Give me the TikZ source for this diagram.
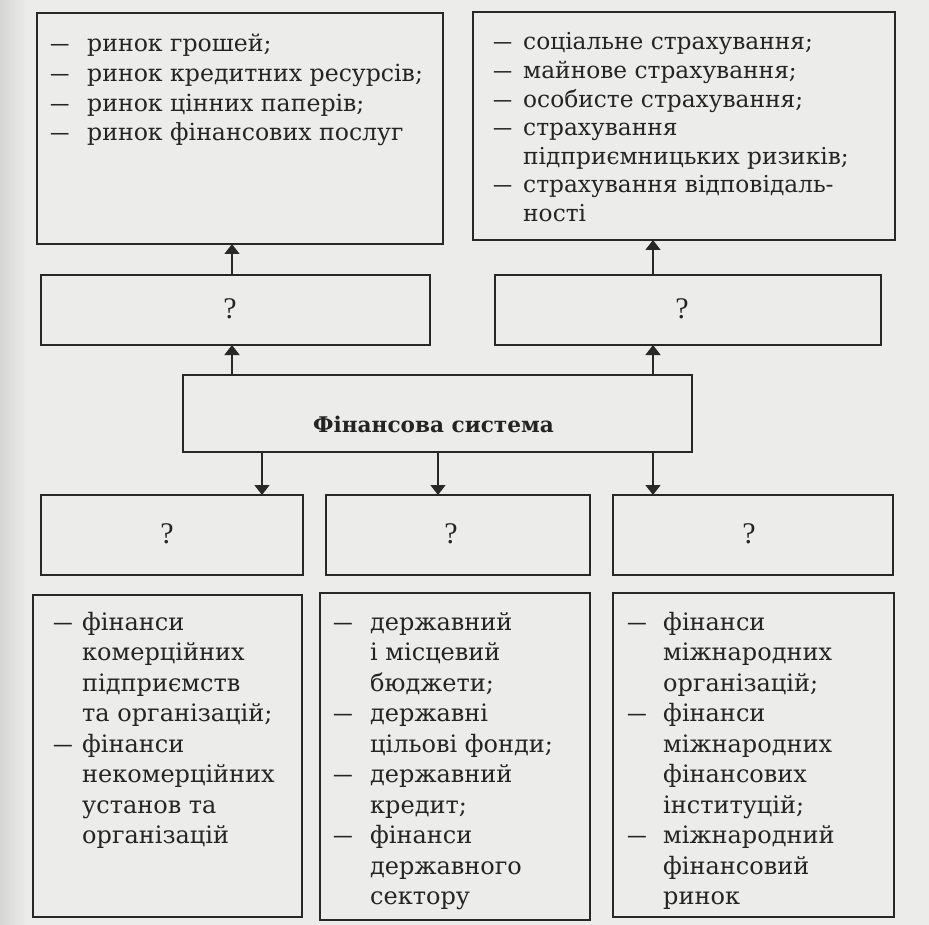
\documentclass[tikz,border=0pt]{standalone}
\usepackage{fontspec}
\setmainfont{DejaVu Serif}
\newfontfamily\qfont{Liberation Serif}
\usetikzlibrary{arrows.meta}
\definecolor{bg}{HTML}{ECECEA}
\definecolor{bgdark}{HTML}{D6D6D4}
\definecolor{ink}{HTML}{282828}
\definecolor{txtc}{HTML}{242424}
\newlength\dw
\newcommand\di[1]{\hbox{\makebox[\dw][l]{\scalebox{0.82}[1]{—}}#1}}
\newcommand\ci[1]{\hbox{\hspace*{\dw}#1}}
\newcommand\blk[3]{\vtop{\dw=#2\baselineskip=#1\lineskiplimit=-100pt\lineskip=0pt #3}}
\tikzset{
  box/.style={draw=ink, line width=1.8pt, inner sep=0pt, outer sep=0pt},
  listtext/.style={inner sep=0pt, anchor=base west, text=txtc},
  qmark/.style={inner sep=0pt, text=txtc, font=\qfont\fontsize{30pt}{30pt}\selectfont},
  arr/.style={draw=ink, line width=1.5pt, -{Triangle[width=15pt,length=10pt]}}
}
\begin{document}
\begin{tikzpicture}[x=1pt,y=-1pt]
\fill[bg] (0,0) rectangle (929,925);
\shade[left color=bgdark, right color=bg] (0,0) rectangle (28,925);
\useasboundingbox (0,0) rectangle (929,925);
% boxes
\node[box, minimum width=406pt, minimum height=231pt] (tl) at (240,128.5) {};
\node[box, minimum width=422pt, minimum height=228pt] (tr) at (684,126) {};
\node[box, minimum width=389pt, minimum height=70pt] (q1) at (235.5,310) {};
\node[box, minimum width=386pt, minimum height=70pt] (q2) at (688,310) {};
\node[box, minimum width=509pt, minimum height=77pt] (fs) at (437.5,413.5) {};
\node[box, minimum width=262pt, minimum height=80pt] (qb1) at (172,535) {};
\node[box, minimum width=264pt, minimum height=80pt] (qb2) at (458,535) {};
\node[box, minimum width=280pt, minimum height=80pt] (qb3) at (753,535) {};
\node[box, minimum width=269pt, minimum height=322pt] (bl) at (167.5,756) {};
\node[box, minimum width=270pt, minimum height=327pt] (bm) at (455,756.5) {};
\node[box, minimum width=281pt, minimum height=324pt] (br) at (753.5,755) {};
% question marks
\node[qmark] (q1t) at (230,309) {?};
\node[qmark] (q2t) at (682,309) {?};
\node[qmark] (qb1t) at (167,534) {?};
\node[qmark] (qb2t) at (451,534) {?};
\node[qmark] (qb3t) at (749,534) {?};
% title
\node[inner sep=0pt, anchor=base, text=txtc, font=\bfseries\fontsize{21.6pt}{24pt}\selectfont] (fst) at (433.5,432) {Фінансова система};
% list texts
\node[listtext, font=\fontsize{23.6pt}{29pt}\selectfont] (tlt) at (50,52) {\blk{29.6pt}{37pt}{%
\di{ринок грошей;}
\di{ринок кредитних ресурсів;}
\di{ринок цінних паперів;}
\di{ринок фінансових послуг}}};
\node[listtext, font=\fontsize{23.3pt}{29pt}\selectfont] (trt) at (493,50) {\blk{28.6pt}{30pt}{%
\di{соціальне страхування;}
\di{майнове страхування;}
\di{особисте страхування;}
\di{страхування}
\ci{підприємницьких ризиків;}
\di{страхування відповідаль-}
\ci{ності}}};
\node[listtext, font=\fontsize{24pt}{30pt}\selectfont] (blt) at (53,630) {\blk{30.5pt}{29pt}{%
\di{фінанси}
\ci{комерційних}
\ci{підприємств}
\ci{та організацій;}
\di{фінанси}
\ci{некомерційних}
\ci{установ та}
\ci{організацій}}};
\node[listtext, font=\fontsize{24pt}{30pt}\selectfont] (bmt) at (333,630) {\blk{30.5pt}{37pt}{%
\di{державний}
\ci{і місцевий}
\ci{бюджети;}
\di{державні}
\ci{цільові фонди;}
\di{державний}
\ci{кредит;}
\di{фінанси}
\ci{державного}
\ci{сектору}}};
\node[listtext, font=\fontsize{24pt}{30pt}\selectfont] (brt) at (627,630) {\blk{30.5pt}{36pt}{%
\di{фінанси}
\ci{міжнародних}
\ci{організацій;}
\di{фінанси}
\ci{міжнародних}
\ci{фінансових}
\ci{інституцій;}
\di{міжнародний}
\ci{фінансовий}
\ci{ринок}}};
% arrows
\coordinate (xa) at (232,0);
\coordinate (xb) at (653,0);
\coordinate (xc) at (262,0);
\coordinate (xd) at (438,0);
\draw[arr] (fs.north -| xa) -- (q1.south -| xa);
\draw[arr] (q1.north -| xa) -- (tl.south -| xa);
\draw[arr] (fs.north -| xb) -- (q2.south -| xb);
\draw[arr] (q2.north -| xb) -- (tr.south -| xb);
\draw[arr] (fs.south -| xc) -- (qb1.north -| xc);
\draw[arr] (fs.south -| xd) -- (qb2.north -| xd);
\draw[arr] (fs.south -| xb) -- (qb3.north -| xb);
\end{tikzpicture}
\end{document}
